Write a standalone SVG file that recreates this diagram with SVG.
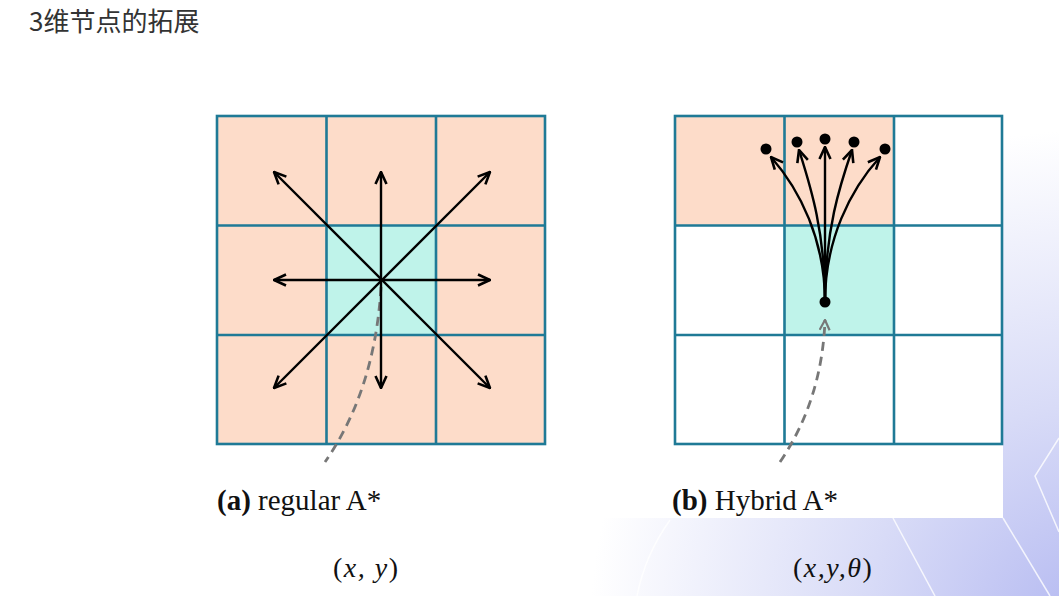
<svg xmlns="http://www.w3.org/2000/svg" width="1059" height="596" viewBox="0 0 1059 596">
<defs>
<radialGradient id="bg" cx="1090" cy="630" r="500" gradientUnits="userSpaceOnUse">
<stop offset="0" stop-color="#b3b8f1"/>
<stop offset="0.45" stop-color="#d8dbf7"/>
<stop offset="1" stop-color="#ffffff"/>
</radialGradient>
<marker id="ah" viewBox="0 0 14 14" refX="13" refY="7" markerWidth="14" markerHeight="14" markerUnits="userSpaceOnUse" orient="auto-start-reverse">
<path d="M1,1.5 L13,7 L1,12.5" fill="none" stroke="#000" stroke-width="2.6"/>
</marker>
<marker id="ahg" viewBox="0 0 12 12" refX="11" refY="6" markerWidth="12" markerHeight="12" markerUnits="userSpaceOnUse" orient="auto-start-reverse">
<path d="M1,1 L11,6 L1,11" fill="none" stroke="#777" stroke-width="2.2"/>
</marker>
</defs>
<style>
.peach{fill:#fddcc9}
.cyan{fill:#bff3ea}
.grid{fill:none;stroke:#1f7a96;stroke-width:2.6}
.arr{fill:none;stroke:#000;stroke-width:2.4;marker-end:url(#ah)}
.arr2{fill:none;stroke:#000;stroke-width:2.4;marker-start:url(#ah);marker-end:url(#ah)}
.dash{fill:none;stroke:#777;stroke-width:2.8;stroke-dasharray:9 6}
.cap{font-family:"Liberation Serif",serif;font-size:29px;fill:#111}
.math{font-family:"Liberation Serif",serif;font-size:28px;fill:#111;font-style:italic;letter-spacing:1.5px}
.title{font-family:"Noto Sans CJK SC","Noto Sans",sans-serif;font-size:26px;fill:#333}
.deco{fill:none;stroke:#ffffff;stroke-width:1.5;opacity:0.8}
</style>
<rect width="1059" height="596" fill="url(#bg)"/>
<g id="decor">
<path class="deco" d="M1059,438 L1035,476 L1059,532"/>
<path class="deco" d="M1003,518 L1050,596"/>
<path class="deco" d="M893,518 L935,596"/>
<path class="deco" d="M670,520 Q645,555 637,596"/>
</g>
<rect x="200" y="100" width="803" height="418" fill="#ffffff"/>
<text id="title" class="title" x="29" y="31">3维节点的拓展</text>
<g id="gridA">
<rect class="peach" x="217" y="116" width="328" height="328"/>
<rect class="cyan" x="326.5" y="225.5" width="109.5" height="109.5"/>
<path class="grid" d="M326.5,116 V444 M436,116 V444 M217,225.5 H545 M217,335 H545"/>
<rect class="grid" x="217" y="116" width="328" height="328" stroke-width="3"/>
</g>
<g id="gridB">
<rect class="peach" x="675" y="116" width="219" height="109.5"/>
<rect class="cyan" x="784.5" y="225.5" width="109.5" height="109.5"/>
<path class="grid" d="M784.5,116 V444 M894,116 V444 M675,225.5 H1002 M675,335 H1002"/>
<rect class="grid" x="675" y="116" width="327" height="328" stroke-width="3"/>
</g>
<g id="nodesB">
<circle cx="825" cy="302" r="5.5" fill="#000"/>
<circle cx="766" cy="149" r="5.5" fill="#000"/>
<circle cx="797" cy="142" r="5.5" fill="#000"/>
<circle cx="825" cy="139" r="5.5" fill="#000"/>
<circle cx="854" cy="142" r="5.5" fill="#000"/>
<circle cx="885" cy="149" r="5.5" fill="#000"/>
</g>
<g id="connectors">
<path class="dash" d="M381,287 Q375,390 325,462"/>
<line class="arr2" x1="381" y1="172" x2="381" y2="388"/>
<line class="arr2" x1="274" y1="280" x2="490" y2="280"/>
<line class="arr2" x1="274" y1="172" x2="490" y2="388"/>
<line class="arr2" x1="490" y1="172" x2="274" y2="388"/>
<path class="dash" d="M780,462 Q822,400 825,320" marker-end="url(#ahg)"/>
<path class="arr" d="M825,302 C825,240 800,190 771,157"/>
<path class="arr" d="M825,302 C825,230 810,185 799,150"/>
<path class="arr" d="M825,302 L825,147"/>
<path class="arr" d="M825,302 C825,230 840,185 852,150"/>
<path class="arr" d="M825,302 C825,240 850,190 880,157"/>
</g>
<g id="labels">
<text class="cap" x="217" y="510"><tspan font-weight="bold">(a)</tspan> regular A*</text>
<text class="cap" x="672" y="510"><tspan font-weight="bold">(b)</tspan> Hybrid A*</text>
<text class="math" x="333" y="577"><tspan font-style="normal">(</tspan>x,  y<tspan font-style="normal">)</tspan></text>
<text class="math" x="793" y="577"><tspan font-style="normal">(</tspan>x,y,θ<tspan font-style="normal">)</tspan></text>
</g>
</svg>
